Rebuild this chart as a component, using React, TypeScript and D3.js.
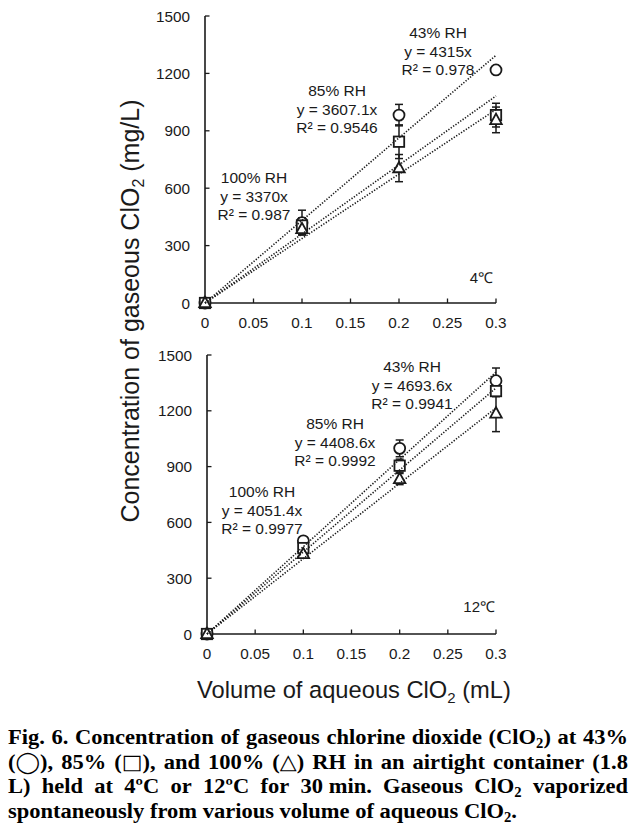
import React, { useMemo } from "react";
import * as d3 from "d3";

// ---------- DATA ----------
const volumes = [0, 0.1, 0.2, 0.3];
const xTicks = [0, 0.05, 0.1, 0.15, 0.2, 0.25, 0.3];
const yTicks = [0, 300, 600, 900, 1200, 1500];

// 4°C panel
const t4_43 = [0, 420, 982, 1218];
const t4_43sd = [0, 65, 56, 15];
const t4_85 = [0, 405, 843, 982];
const t4_85sd = [0, 40, 88, 62];
const t4_100 = [0, 387, 705, 957];
const t4_100sd = [0, 30, 71, 67];
const t4_slopes = [4315, 3607.1, 3370];
const t4_labels = [
  ["43% RH", "y = 4315x", "R² = 0.978"],
  ["85% RH", "y = 3607.1x", "R² = 0.9546"],
  ["100% RH", "y = 3370x", "R² = 0.987"],
];

// 12°C panel
const t12_43 = [0, 501, 998, 1362];
const t12_43sd = [0, 15, 45, 68];
const t12_85 = [0, 462, 905, 1306];
const t12_85sd = [0, 20, 35, 30];
const t12_100 = [0, 430, 833, 1186];
const t12_100sd = [0, 15, 30, 98];
const t12_slopes = [4693.6, 4408.6, 4051.4];
const t12_labels = [
  ["43% RH", "y = 4693.6x", "R² = 0.9941"],
  ["85% RH", "y = 4408.6x", "R² = 0.9992"],
  ["100% RH", "y = 4051.4x", "R² = 0.9977"],
];

const markerShapes = ["circle", "square", "triangle"];

// ---------- LAYOUT ----------
const W = 637;
const H = 833;
const INK = "#1a1a1a";
const SANS = "'Liberation Sans', Arial, sans-serif";
const SERIF = "'Liberation Serif', 'Times New Roman', serif";
const SYM = "'DejaVu Sans', sans-serif";

type Panel = {
  x0: number; x1: number; y0: number; y1: number;
  series: number[][]; sds: number[][]; slopes: number[];
  labels: string[][]; labelPos: { x: number; y: number }[];
  temp: string; tempPos: { x: number; y: number };
};

const panels: Panel[] = [
  {
    x0: 205, x1: 496, y0: 303, y1: 16,
    series: [t4_43, t4_85, t4_100], sds: [t4_43sd, t4_85sd, t4_100sd],
    slopes: t4_slopes, labels: t4_labels,
    labelPos: [{ x: 438, y: 38 }, { x: 337, y: 96 }, { x: 254, y: 183 }],
    temp: "4℃", tempPos: { x: 493, y: 283 },
  },
  {
    x0: 207, x1: 496, y0: 634, y1: 355,
    series: [t12_43, t12_85, t12_100], sds: [t12_43sd, t12_85sd, t12_100sd],
    slopes: t12_slopes, labels: t12_labels,
    labelPos: [{ x: 412, y: 372 }, { x: 335, y: 429 }, { x: 262, y: 497 }],
    temp: "12℃", tempPos: { x: 495, y: 612 },
  },
];

function Marker({ shape, cx, cy }: { shape: string; cx: number; cy: number }) {
  const common = { fill: "#fff", stroke: INK, strokeWidth: 1.8 };
  if (shape === "circle") return <circle cx={cx} cy={cy} r={5.5} {...common} />;
  if (shape === "square")
    return <rect x={cx - 5.2} y={cy - 5.2} width={10.4} height={10.4} {...common} />;
  const s = 11.5;
  const h = s * 0.9;
  const pts = [
    [cx, cy - h * 0.6],
    [cx - s / 2, cy + h * 0.4],
    [cx + s / 2, cy + h * 0.4],
  ];
  return <polygon points={pts.map((p) => p.join(",")).join(" ")} {...common} />;
}

function PanelView({ p }: { p: Panel }) {
  const x = d3.scaleLinear().domain([0, 0.3]).range([p.x0, p.x1]);
  const y = d3.scaleLinear().domain([0, 1500]).range([p.y0, p.y1]);
  const line = d3
    .line<[number, number]>()
    .x((d) => x(d[0]))
    .y((d) => y(d[1]));
  return (
    <g>
      {/* axes */}
      <line x1={p.x0} x2={p.x0} y1={y(0)} y2={y(1500)} stroke={INK} strokeWidth={1.6} />
      <line x1={p.x0} x2={p.x1} y1={y(0)} y2={y(0)} stroke={INK} strokeWidth={1.6} />
      {yTicks.map((t) => (
        <g key={"y" + t}>
          <line x1={p.x0} x2={p.x0 + 4.5} y1={y(t)} y2={y(t)} stroke={INK} strokeWidth={1.3} />
          <text x={p.x0 - 15} y={y(t) + 5.5} textAnchor="end" fontFamily={SANS} fontSize={15.3} fill={INK}>
            {t}
          </text>
        </g>
      ))}
      {xTicks.map((t) => (
        <g key={"x" + t}>
          <line x1={x(t)} x2={x(t)} y1={y(0)} y2={y(0) - 4.5} stroke={INK} strokeWidth={1.3} />
          <text x={x(t)} y={y(0) + 25} textAnchor="middle" fontFamily={SANS} fontSize={15.3} fill={INK}>
            {t}
          </text>
        </g>
      ))}
      {/* error bars */}
      {p.series.map((s, si) =>
        s.map((v, i) => {
          const sd = p.sds[si][i];
          if (!sd) return null;
          const cx = x(volumes[i]);
          return (
            <g key={`e${si}-${i}`} stroke={INK} strokeWidth={1.5}>
              <line x1={cx} x2={cx} y1={y(v - sd)} y2={y(v + sd)} />
              <line x1={cx - 4} x2={cx + 4} y1={y(v - sd)} y2={y(v - sd)} />
              <line x1={cx - 4} x2={cx + 4} y1={y(v + sd)} y2={y(v + sd)} />
            </g>
          );
        })
      )}
      {/* markers */}
      {p.series.map((s, si) =>
        s.map((v, i) => (
          <Marker key={`m${si}-${i}`} shape={markerShapes[si]} cx={x(volumes[i])} cy={y(v)} />
        ))
      )}
      {/* trendlines */}
      {p.slopes.map((k, i) => (
        <path
          key={"t" + i}
          d={line([
            [0, 0],
            [0.3, k * 0.3],
          ])!}
          fill="none"
          stroke={INK}
          strokeWidth={1.6}
          strokeDasharray="1.3 1.6"
        />
      ))}
      {/* labels */}
      {p.labels.map((lines, i) => (
        <text key={"l" + i} fontFamily={SANS} fontSize={15.5} fill={INK} textAnchor="middle">
          {lines.map((ln, j) => (
            <tspan key={j} x={p.labelPos[i].x} y={p.labelPos[i].y + j * 18.5}>
              {ln}
            </tspan>
          ))}
        </text>
      ))}
      <text x={p.tempPos.x} y={p.tempPos.y} textAnchor="end" fontFamily={SANS} fontSize={15} fill={INK}>
        {p.temp}
      </text>
    </g>
  );
}

// ---------- CAPTION ----------
type Seg = { t: string; sub?: boolean; sym?: boolean };
type Tok = Seg[];
const T = (s: string): Tok => [{ t: s }];
const clo2 = (pre: string, post: string): Tok => [{ t: pre + "ClO" }, { t: "2", sub: true }, { t: post }];
const symTok = (sym: string, post: string): Tok => [{ t: "(" }, { t: sym, sym: true }, { t: post }];

const captionLines: Tok[][] = [
  [T("Fig."), T("6."), T("Concentration"), T("of"), T("gaseous"), T("chlorine"), T("dioxide"), clo2("(", ")"), T("at"), T("43%")],
  [symTok("◯", "),"), T("85%"), symTok("□", "),"), T("and"), T("100%"), symTok("△", ")"), T("RH"), T("in"), T("an"), T("airtight"), T("container"), T("(1.8")],
  [T("L)"), T("held"), T("at"), T("4ºC"), T("or"), T("12ºC"), T("for"), T("30\u00a0min."), T("Gaseous"), clo2("", ""), T("vaporized")],
  [T("spontaneously"), T("from"), T("various"), T("volume"), T("of"), T("aqueous"), clo2("", ".")],
];
const CAP_SIZE = 21.5;
const SUB_SIZE = 14;
const SYM_SIZE = 21;

function Caption() {
  const layout = useMemo(() => {
    const cv = document.createElement("canvas");
    const ctx = cv.getContext("2d")!;
    const segW = (s: Seg) => {
      if (s.sym) {
        ctx.font = `${SYM_SIZE}px 'DejaVu Sans'`;
      } else {
        ctx.font = `bold ${s.sub ? SUB_SIZE : CAP_SIZE}px 'Liberation Serif'`;
      }
      return ctx.measureText(s.t).width;
    };
    const tokW = (tk: Tok) => tk.reduce((a, s) => a + segW(s), 0);
    const space = segW({ t: " " });
    const last = captionLines[3];
    const w4 = last.reduce((a, t) => a + tokW(t), 0) + space * (last.length - 1);
    const sx = 509 / w4;
    const target = 620 / sx;
    const lines = captionLines.map((ln, li) => {
      const widths = ln.map(tokW);
      const sum = d3.sum(widths);
      const gap = li < 3 ? (target - sum) / (ln.length - 1) : space;
      let cur = 0;
      return ln.map((tk, i) => {
        const pos = cur;
        cur += widths[i] + gap;
        return { tk, pos };
      });
    });
    return { sx, lines };
  }, []);
  const baselines = [744, 769, 793, 818];
  return (
    <g transform={`translate(8,0) scale(${layout.sx},1)`} fontFamily={SERIF} fontWeight="bold" fontSize={CAP_SIZE} fill="#000">
      {layout.lines.map((ln, li) =>
        ln.map(({ tk, pos }, ti) => (
          <text key={`${li}-${ti}`} x={pos} y={baselines[li]}>
            {tk.map((s, si) => {
              if (s.sub)
                return (
                  <tspan key={si} fontSize={SUB_SIZE} dy={4}>
                    {s.t}
                  </tspan>
                );
              if (s.sym)
                return (
                  <tspan key={si} fontFamily={SYM} fontWeight="normal" fontSize={SYM_SIZE}>
                    {s.t}
                  </tspan>
                );
              return (
                <tspan key={si} dy={si > 0 && tk[si - 1].sub ? -4 : 0}>
                  {s.t}
                </tspan>
              );
            })}
          </text>
        ))
      )}
    </g>
  );
}

export default function App() {
  return (
    <svg width={W} height={H} style={{ position: "absolute", left: 0, top: 0, background: "#fff" }}>
      <rect width={W} height={H} fill="#fff" />
      {panels.map((p, i) => (
        <PanelView key={i} p={p} />
      ))}
      {/* y axis title */}
      <text
        transform="translate(139,311) rotate(-90)"
        textAnchor="middle"
        fontFamily={SANS}
        fontSize={25}
        fill={INK}
      >
        <tspan>Concentration of gaseous ClO</tspan>
        <tspan fontSize={16} dy={5}>2</tspan>
        <tspan dy={-5}> (mg/L)</tspan>
      </text>
      {/* x axis title */}
      <text x={354} y={698} textAnchor="middle" fontFamily={SANS} fontSize={23.7} fill={INK}>
        <tspan>Volume of aqueous ClO</tspan>
        <tspan fontSize={15} dy={5}>2</tspan>
        <tspan dy={-5}> (mL)</tspan>
      </text>
      <Caption />
    </svg>
  );
}
